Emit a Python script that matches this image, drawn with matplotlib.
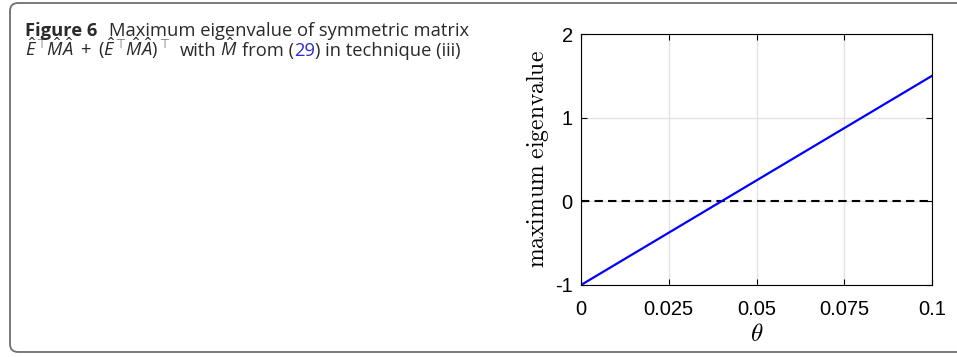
import matplotlib
matplotlib.use("Agg")
from matplotlib import pyplot as plt
from matplotlib.patches import FancyBboxPatch
from matplotlib.transforms import IdentityTransform

plt.rcParams["mathtext.rm"] = "Open Sans"
plt.rcParams["mathtext.it"] = "Open Sans:italic"
plt.rcParams["mathtext.bf"] = "Open Sans:bold"

# data
theta = [0.0, 0.1]
max_eig = [-1.0, 1.5]
zero_line = [0.0, 0.0]

x_ticks = [0, 0.025, 0.05, 0.075, 0.1]
x_labels = ["0", "0.025", "0.05", "0.075", "0.1"]
y_ticks = [-1, 0, 1, 2]
y_labels = ["-1", "0", "1", "2"]

W, H = 957, 357
fig = plt.figure(figsize=(W / 100, H / 100), dpi=100)

# rounded frame around the figure panel (right side runs off the page)
frame = FancyBboxPatch((10, H - 352), 990, 349,
                       boxstyle="round,pad=0,rounding_size=8",
                       transform=IdentityTransform(), fill=False,
                       edgecolor="#707070", linewidth=1.3, clip_on=False)
fig.patches.append(frame)

# caption, laid out piece by piece
cap = dict(fontsize=13.2, family="Open Sans", color="#2a2a2a", va="baseline")
renderer = fig.canvas.get_renderer()


def put_line(pieces, x0, y0):
    x = x0
    for txt, extra, gap in pieces:
        t = fig.text(x / W, 1 - y0 / H, txt, **dict(cap, **extra))
        bb = t.get_window_extent(renderer)
        x = bb.x1 + gap


put_line([("Figure 6", dict(fontweight="bold"), 12),
          ("Maximum eigenvalue of symmetric matrix", {}, 0)], 25, 36)
m = dict(math_fontfamily="custom")
put_line([(r"$\hat{E}^{\top}\!\hat{M}\hat{A}\;+\;(\hat{E}^{\top}\!\hat{M}\hat{A})^{\top}$", m, 9),
          ("with", {}, 4),
          (r"$\hat{M}$", m, 4),
          ("from (", {}, 0),
          ("29", dict(color="#2b2bd9"), 0),
          (") in technique (iii)", {}, 0)], 25, 56)

# plot
ax = fig.add_axes([581 / W, 1 - 285 / H, 351 / W, 251 / H])
ax.plot(theta, zero_line, color="black", linestyle=(0, (4, 2.5)), linewidth=1.5)
ax.plot(theta, max_eig, color="#0000ff", linewidth=1.6)

ax.set_xlim(0, 0.1)
ax.set_ylim(-1, 2)
ax.set_xticks(x_ticks, x_labels)
ax.set_yticks(y_ticks, y_labels)
ax.grid(True, color="#e3e3e3", linewidth=1.0)
ax.set_axisbelow(True)
ax.tick_params(direction="in", top=True, right=True, length=4, width=0.8,
               labelsize=14.5)
ax.tick_params(axis="x", pad=11)
ax.tick_params(axis="y", pad=6)
for lbl in ax.get_xticklabels() + ax.get_yticklabels():
    lbl.set_family("Liberation Sans")
for s in ax.spines.values():
    s.set_linewidth(0.8)

ax.set_ylabel(r"$\mathrm{maximum\ eigenvalue}$", fontsize=17,
              math_fontfamily="cm", labelpad=3)
ax.set_xlabel(r"$\theta$", fontsize=18, math_fontfamily="cm", labelpad=2)

fig.savefig("out.png", dpi=100)
